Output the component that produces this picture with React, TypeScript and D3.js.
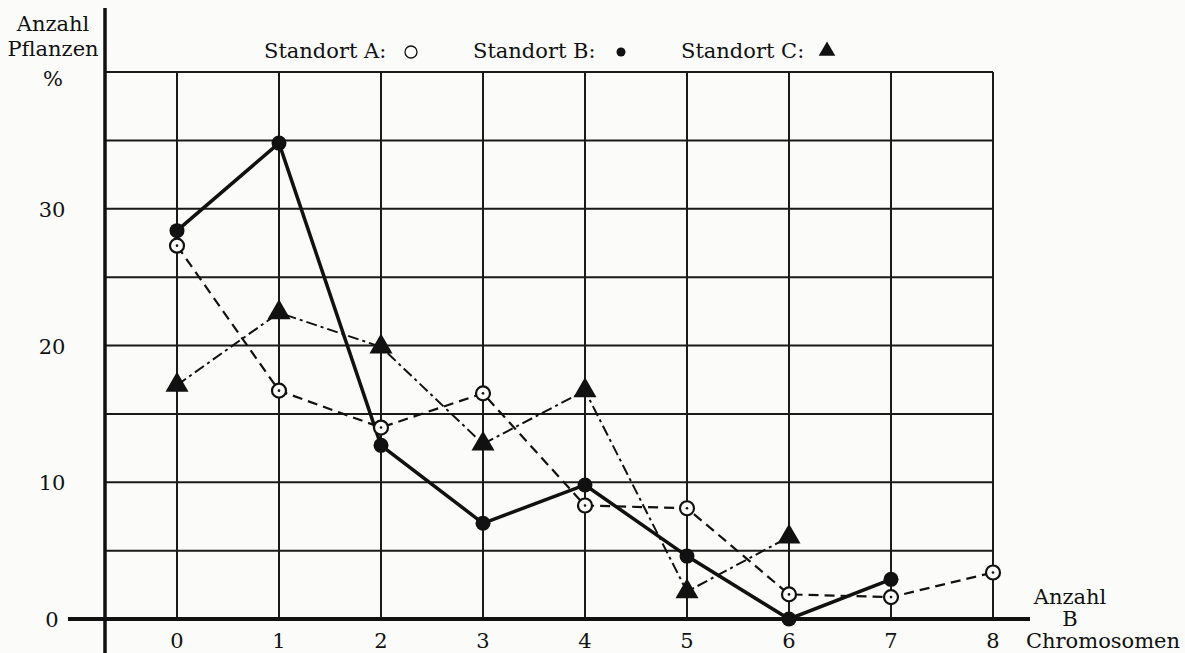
import * as d3 from 'd3';
import React, {useEffect, useRef} from 'react';

// Anzahl B-Chromosomen (x) und Anteil der Pflanzen in % je Standort
const chromosomes = [0, 1, 2, 3, 4, 5, 6, 7, 8];
const standortA = [27.3, 16.7, 14.0, 16.5, 8.3, 8.1, 1.8, 1.6, 3.4];
const standortB = [28.4, 34.8, 12.7, 7.0, 9.8, 4.6, 0, 2.9];
const standortC = [17.1, 22.4, 19.9, 12.8, 16.7, 2.0, 6.0];
const yTicks = [0, 10, 20, 30];
const gridY = [5, 10, 15, 20, 25, 30, 35, 40];

const W = 1185, H = 653;
const FONT = '"DejaVu Serif", "Liberation Serif", serif';

function App() {
    const ref = useRef(null);

    useEffect(() => {
        const svg = d3.select(ref.current);
        svg.selectAll('*').remove();

        const x = d3.scaleLinear().domain([0, 8]).range([177, 993]);
        const y = d3.scaleLinear().domain([0, 40]).range([619, 72]);
        const axisX = 105;

        svg.append('rect').attr('width', W).attr('height', H).attr('fill', '#fbfbf9');

        // grid
        const grid = svg.append('g').attr('stroke', '#1a1a1a').attr('stroke-width', 2);
        gridY.forEach((v) => {
            grid.append('line')
                .attr('x1', axisX).attr('x2', x(8))
                .attr('y1', y(v)).attr('y2', y(v));
        });
        chromosomes.forEach((c) => {
            grid.append('line')
                .attr('x1', x(c)).attr('x2', x(c))
                .attr('y1', y(40)).attr('y2', y(0));
        });

        // axes
        svg.append('line')
            .attr('x1', axisX).attr('x2', axisX)
            .attr('y1', 8).attr('y2', H)
            .attr('stroke', '#111').attr('stroke-width', 3.5);
        svg.append('line')
            .attr('x1', 68).attr('x2', 1030)
            .attr('y1', y(0)).attr('y2', y(0))
            .attr('stroke', '#111').attr('stroke-width', 4);

        // tick labels
        const txt = svg.append('g')
            .attr('font-family', FONT)
            .attr('font-size', 21)
            .attr('fill', '#111');
        yTicks.forEach((v) => {
            txt.append('text')
                .attr('x', 52).attr('y', y(v) + 8)
                .attr('text-anchor', 'middle')
                .text(v);
        });
        chromosomes.forEach((c) => {
            txt.append('text')
                .attr('x', x(c)).attr('y', 648)
                .attr('text-anchor', 'middle')
                .text(c);
        });

        // axis titles
        [['Anzahl', 31], ['Pflanzen', 56], ['%', 86]].forEach(([t, yy]) => {
            txt.append('text')
                .attr('x', 53).attr('y', yy)
                .attr('text-anchor', 'middle')
                .text(t);
        });
        txt.append('text').attr('x', 1070).attr('y', 604).attr('text-anchor', 'middle').text('Anzahl');
        txt.append('text').attr('x', 1070).attr('y', 626).attr('text-anchor', 'middle').text('B');
        txt.append('text').attr('x', 1103).attr('y', 648).attr('text-anchor', 'middle').text('Chromosomen');

        // legend
        txt.append('text').attr('x', 264).attr('y', 58).text('Standort A:');
        txt.append('text').attr('x', 473).attr('y', 58).text('Standort B:');
        txt.append('text').attr('x', 681).attr('y', 58).text('Standort C:');
        svg.append('circle').attr('cx', 411).attr('cy', 52).attr('r', 6)
            .attr('fill', 'none').attr('stroke', '#111').attr('stroke-width', 1.3);
        svg.append('circle').attr('cx', 621).attr('cy', 52).attr('r', 4.5).attr('fill', '#111');
        svg.append('path')
            .attr('d', d3.symbol().type(d3.symbolTriangle).size(120)())
            .attr('transform', 'translate(827,51)')
            .attr('fill', '#111');

        const line = d3.line().x((d, i) => x(i)).y((d) => y(d));

        // Standort C: dash-dot
        svg.append('path')
            .attr('d', line(standortC))
            .attr('fill', 'none').attr('stroke', '#111').attr('stroke-width', 2)
            .attr('stroke-dasharray', '11 4 3 4');
        // Standort A: dashed
        svg.append('path')
            .attr('d', line(standortA))
            .attr('fill', 'none').attr('stroke', '#111').attr('stroke-width', 2.2)
            .attr('stroke-dasharray', '10 6');
        // Standort B: solid thick
        svg.append('path')
            .attr('d', line(standortB))
            .attr('fill', 'none').attr('stroke', '#111').attr('stroke-width', 3.5);

        // markers
        standortC.forEach((v, i) => {
            svg.append('path')
                .attr('d', d3.symbol().type(d3.symbolTriangle).size(230)())
                .attr('transform', `translate(${x(i)},${y(v)})`)
                .attr('fill', '#111');
        });
        standortA.forEach((v, i) => {
            svg.append('circle').attr('cx', x(i)).attr('cy', y(v)).attr('r', 7)
                .attr('fill', '#fbfbf9').attr('stroke', '#111').attr('stroke-width', 2.2);
            svg.append('circle').attr('cx', x(i)).attr('cy', y(v)).attr('r', 1.3).attr('fill', '#111');
        });
        standortB.forEach((v, i) => {
            svg.append('circle').attr('cx', x(i)).attr('cy', y(v)).attr('r', 7.5).attr('fill', '#111');
        });
    }, []);

    return (
        <svg ref={ref} width={W} height={H}
            style={{position: 'absolute', left: 0, top: 0, display: 'block'}} />
    );
}

export default App;
